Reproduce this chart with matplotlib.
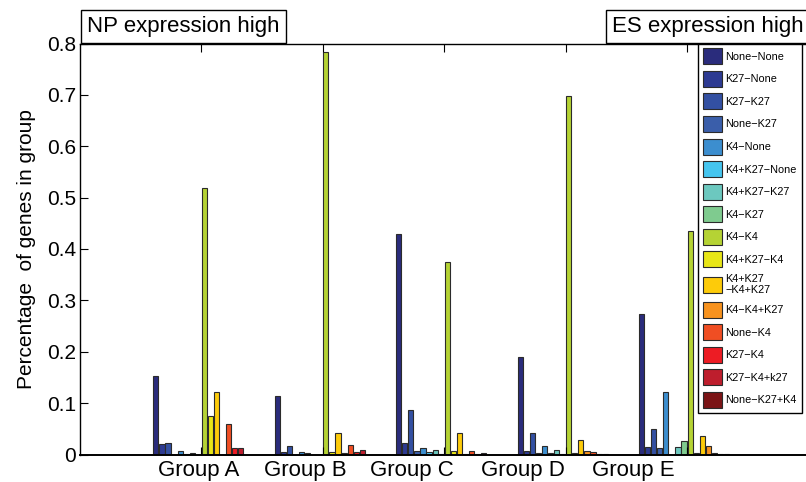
import numpy as np
import matplotlib
matplotlib.use('Agg')
import matplotlib.pyplot as plt
import matplotlib.transforms as mtransforms

plt.rcParams['font.family'] = ['Liberation Sans', 'DejaVu Sans']

groups = ['Group A', 'Group B', 'Group C', 'Group D', 'Group E']
states = ['None\u2212None', 'K27\u2212None', 'K27\u2212K27', 'None\u2212K27', 'K4\u2212None',
          'K4+K27\u2212None', 'K4+K27\u2212K27', 'K4\u2212K27', 'K4\u2212K4', 'K4+K27\u2212K4',
          'K4+K27\n\u2212K4+K27', 'K4\u2212K4+K27', 'None\u2212K4', 'K27\u2212K4',
          'K27\u2212K4+k27', 'None\u2212K27+K4']

# fraction of genes per chromatin state, one list per group
group_a = [0.153, 0.020, 0.023, 0.000, 0.007, 0.001, 0.003, 0.000,
           0.519, 0.074, 0.122, 0.000, 0.059, 0.013, 0.013, 0.000]
group_b = [0.113, 0.004, 0.017, 0.000, 0.005, 0.003, 0.000, 0.000,
           0.783, 0.005, 0.042, 0.002, 0.018, 0.005, 0.009, 0.000]
group_c = [0.430, 0.022, 0.087, 0.007, 0.013, 0.004, 0.008, 0.001,
           0.374, 0.006, 0.041, 0.001, 0.007, 0.001, 0.003, 0.000]
group_d = [0.189, 0.006, 0.041, 0.002, 0.017, 0.002, 0.008, 0.001,
           0.697, 0.003, 0.028, 0.006, 0.005, 0.001, 0.001, 0.000]
group_e = [0.273, 0.014, 0.049, 0.012, 0.121, 0.000, 0.014, 0.027,
           0.436, 0.003, 0.036, 0.017, 0.002, 0.001, 0.001, 0.000]
values = np.array([group_a, group_b, group_c, group_d, group_e])

colors = ['#2a2c7c', '#2d3a92', '#3350a2', '#3a5eaa', '#3c8ecf', '#45c5ef',
          '#6cc8bf', '#7fcb8f', '#b5d334', '#e8e617', '#fdcb0a', '#f7921e',
          '#f04e23', '#ed1c24', '#be1e2d', '#7b1416']

yticks = [0, 0.1, 0.2, 0.3, 0.4, 0.5, 0.6, 0.7, 0.8]
ytick_labels = ['0', '0.1', '0.2', '0.3', '0.4', '0.5', '0.6', '0.7', '0.8']

fig = plt.figure(figsize=(8.06, 4.82), dpi=100)
ax = fig.add_axes([80 / 806, 1 - 454.5 / 482, 728.5 / 806, 411 / 482])

centers = np.arange(1, len(groups) + 1)
n = len(states)
slot = 0.8 / n
for i in range(n):
    ax.bar(centers + (i - (n - 1) / 2) * slot, values[:, i], width=slot * 0.86,
           color=colors[i], edgecolor='#2b2b2b', linewidth=0.8, label=states[i])

ax.set_xlim(0, 6)
ax.set_ylim(0, 0.8)
ax.set_yticks(yticks)
ax.set_yticklabels(ytick_labels, fontsize=15)
ax.set_xticks(centers)
ax.set_xticklabels([])
ax.tick_params(direction='in', top=True, right=False, length=5.5, width=0.8, pad=3)
for s in ax.spines.values():
    s.set_linewidth(1.0)
ax.spines['bottom'].set_linewidth(1.4)

# group names sit a bit left of the bar groups, as in the original
label_pos = [0.975, 1.856, 2.737, 3.65, 4.556]
trans = mtransforms.blended_transform_factory(ax.transData, ax.transAxes)
for x, g in zip(label_pos, groups):
    ax.text(x, -0.014, g, transform=trans, ha='center', va='top', fontsize=16)

ax.set_ylabel('Percentage  of genes in group', fontsize=15, labelpad=8)

leg = ax.legend(loc='upper left', bbox_to_anchor=(0.848, 1.0), borderaxespad=0,
                fontsize=7.8, frameon=True, fancybox=False, edgecolor='black',
                handlelength=1.8, handleheight=1.9, handletextpad=0.3,
                labelspacing=0.6, borderpad=0.45)
leg.get_frame().set_linewidth(1.0)
leg.get_frame().set_alpha(1)

box = dict(boxstyle='square,pad=0.28', facecolor='white', edgecolor='black', linewidth=1.0)
fig.text(87 / 806, 1 - 36.8 / 482, 'NP expression high', fontsize=16,
         ha='left', va='bottom', bbox=box)
fig.text(612 / 806, 1 - 36.8 / 482, 'ES expression high', fontsize=16,
         ha='left', va='bottom', bbox=box)

fig.savefig('out.png', dpi=100)
